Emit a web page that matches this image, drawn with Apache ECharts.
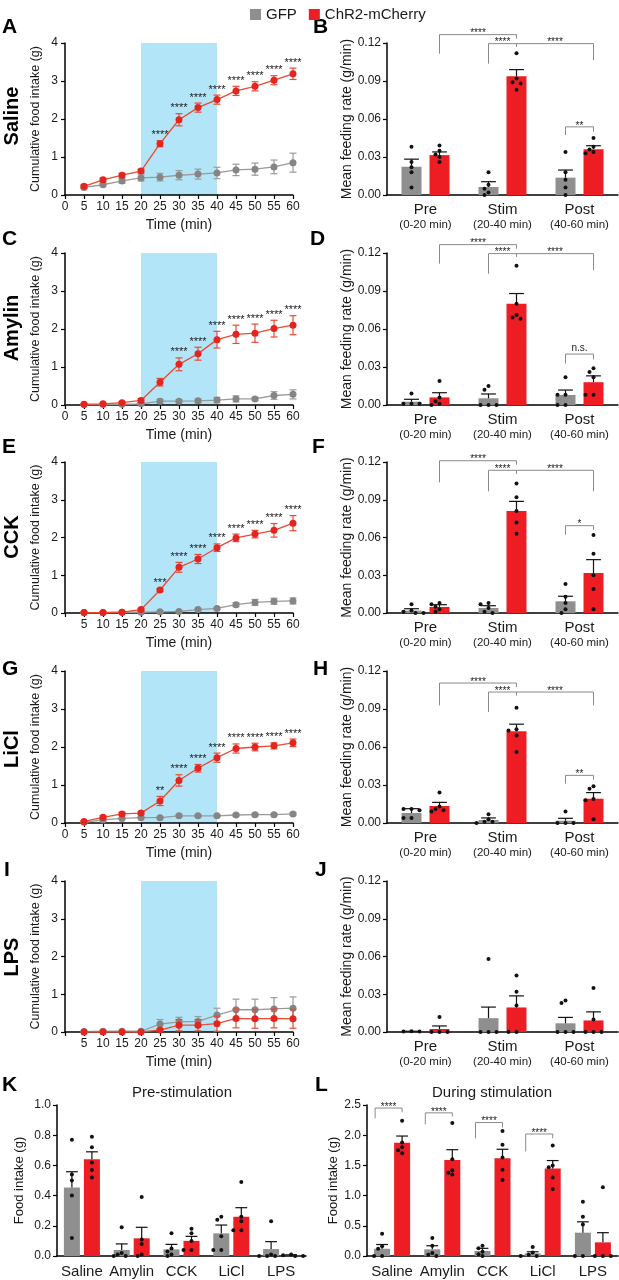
<!DOCTYPE html>
<html><head><meta charset="utf-8">
<script src="https://cdn.jsdelivr.net/npm/echarts@6/dist/echarts.min.js"></script>
<style>html,body{margin:0;padding:0;background:#fff}#c{width:619px;height:1280px}</style>
</head><body><div id="c"></div>
<script>
// ---------------- DATA ----------------
const time = [5,10,15,20,25,30,35,40,45,50,55,60];
const stimWindow = [20, 40];

const salineGFP     = [0.20,0.27,0.37,0.45,0.47,0.52,0.55,0.58,0.66,0.68,0.74,0.85];
const salineGFPErr  = [0.03,0.04,0.06,0.08,0.10,0.12,0.13,0.15,0.15,0.16,0.18,0.25];
const salineChR2    = [0.23,0.40,0.52,0.63,1.35,1.98,2.30,2.51,2.74,2.86,3.02,3.19];
const salineChR2Err = [0.04,0.05,0.05,0.05,0.08,0.16,0.12,0.12,0.12,0.12,0.12,0.15];
const salineSig     = ['','','','','****','****','****','****','****','****','****','****'];

const amylinGFP     = [0.01,0.01,0.02,0.03,0.10,0.10,0.11,0.13,0.16,0.16,0.25,0.28];
const amylinGFPErr  = [0.01,0.01,0.01,0.02,0.05,0.04,0.05,0.07,0.08,0.04,0.10,0.12];
const amylinChR2    = [0.02,0.03,0.06,0.12,0.60,1.07,1.35,1.72,1.86,1.89,2.01,2.10];
const amylinChR2Err = [0.01,0.02,0.03,0.05,0.10,0.17,0.17,0.22,0.24,0.24,0.22,0.25];
const amylinSig     = ['','','','','','****','****','****','****','****','****','****'];

const cckGFP        = [0.01,0.01,0.02,0.02,0.03,0.04,0.09,0.12,0.22,0.28,0.31,0.32];
const cckGFPErr     = [0.01,0.01,0.01,0.01,0.02,0.02,0.03,0.03,0.05,0.08,0.08,0.08];
const cckChR2       = [0.01,0.01,0.02,0.09,0.61,1.21,1.43,1.73,1.99,2.09,2.19,2.38];
const cckChR2Err    = [0.01,0.01,0.02,0.03,0.04,0.13,0.12,0.10,0.10,0.10,0.18,0.20];
const cckSig        = ['','','','','***','****','****','****','****','****','****','****'];

const liclGFP       = [0.02,0.08,0.12,0.14,0.14,0.19,0.19,0.19,0.21,0.22,0.22,0.24];
const liclGFPErr    = [0.01,0.02,0.02,0.02,0.02,0.03,0.03,0.03,0.03,0.03,0.03,0.03];
const liclChR2      = [0.04,0.15,0.24,0.26,0.58,1.12,1.44,1.72,1.96,2.00,2.03,2.11];
const liclChR2Err   = [0.02,0.04,0.04,0.04,0.12,0.15,0.10,0.12,0.12,0.10,0.08,0.10];
const liclSig       = ['','','','','**','****','****','****','****','****','****','****'];

const lpsGFP        = [0.01,0.02,0.02,0.02,0.21,0.27,0.28,0.45,0.59,0.59,0.61,0.63];
const lpsGFPErr     = [0.01,0.01,0.01,0.01,0.12,0.12,0.13,0.18,0.28,0.28,0.30,0.30];
const lpsChR2       = [0.00,0.00,0.00,0.00,0.05,0.18,0.18,0.22,0.36,0.35,0.36,0.35];
const lpsChR2Err    = [0,0,0,0,0.03,0.15,0.15,0.20,0.25,0.25,0.25,0.25];
const lpsSig        = ['','','','','','','','','','','',''];

const rateCats = ['Pre','Stim','Post'];
const rateSubs = ['(0-20 min)','(20-40 min)','(40-60 min)'];
const rateTicks = [0, 0.12, 0.03];

const rateSalineGFP = [0.0223,0.0063,0.0137], rateSalineGFPErr = [0.0060,0.0042,0.0060];
const rateSalineChR2 = [0.0315,0.0937,0.0362], rateSalineChR2Err = [0.0025,0.0053,0.0027];
const dotsSalineGFP = [[0.038,0.026,0.022,0.018,0.006],[0.018,0.008,0.005,0.002,0.0],[0.034,0.018,0.012,0.006,0.0]];
const dotsSalineChR2 = [[0.039,0.035,0.032,0.030,0.026],[0.112,0.092,0.089,0.088,0.083],[0.045,0.038,0.036,0.034,0.033]];
const sigRateSaline = [[0,1,1,1,0.1266,0.1116,0.1234,'****'],[1,-1,1,1,0.1195,0.1037,0.1170,'****'],[1,1,2,1,0.1195,0.1170,0.1064,'****'],[2,-1,2,1,0.0538,0.0473,0.0500,'**']];

const rateAmylinGFP = [0.0026,0.0053,0.0079], rateAmylinGFPErr = [0.0019,0.0034,0.0039];
const rateAmylinChR2 = [0.0060,0.0800,0.0180], rateAmylinChR2Err = [0.0037,0.0080,0.0050];
const dotsAmylinGFP = [[0.009,0.001,0.001,0.001,0.0005],[0.015,0.012,0.0,0.0,0.0],[0.022,0.008,0.008,0.0,0.0]];
const dotsAmylinChR2 = [[0.019,0.006,0.003,0.001,0.0],[0.110,0.080,0.071,0.069,0.068],[0.029,0.026,0.022,0.008,0.008]];
const sigRateAmylin = [[0,1,1,1,0.1266,0.1116,0.1234,'****'],[1,-1,1,1,0.1195,0.1037,0.1170,'****'],[1,1,2,1,0.1195,0.1170,0.1064,'****'],[2,-1,2,1,0.0402,0.0328,0.0360,'n.s.']];

const rateCckGFP = [0.0019,0.0040,0.0093], rateCckGFPErr = [0.0015,0.0018,0.0040];
const rateCckChR2 = [0.0048,0.0810,0.0318], rateCckChR2Err = [0.0018,0.0077,0.0106];
const dotsCckGFP = [[0.007,0.002,0.001,0.0,0.0],[0.008,0.007,0.004,0.001,0.0],[0.023,0.013,0.008,0.003,0.0]];
const dotsCckChR2 = [[0.008,0.007,0.005,0.003,0.001],[0.103,0.092,0.081,0.072,0.063],[0.062,0.047,0.030,0.019,0.003]];
const sigRateCck = [[0,1,1,1,0.1210,0.1038,0.1179,'****'],[1,-1,1,1,0.1134,0.0967,0.1107,'****'],[1,1,2,1,0.1134,0.1107,0.0967,'****'],[2,-1,2,1,0.0694,0.0623,0.0662,'*']];

const rateLiclGFP = [0.0079,0.0024,0.0018], rateLiclGFPErr = [0.0034,0.0016,0.0019];
const rateLiclChR2 = [0.0134,0.0724,0.0192], rateLiclChR2Err = [0.0029,0.0056,0.0048];
const dotsLiclGFP = [[0.011,0.011,0.010,0.004,0.004],[0.007,0.003,0.001,0.001,0.0],[0.009,0.0,0.0,0.0,0.0]];
const dotsLiclChR2 = [[0.024,0.013,0.011,0.010,0.009],[0.091,0.074,0.073,0.069,0.056],[0.029,0.027,0.019,0.018,0.003]];
const sigRateLicl = [[0,1,1,1,0.1105,0.0929,0.1074,'****'],[1,-1,1,1,0.1034,0.0876,0.1008,'****'],[1,1,2,1,0.1034,0.1008,0.0929,'****'],[2,-1,2,1,0.0376,0.0311,0.0342,'**']];

const rateLpsGFP = [0.0003,0.0110,0.0069], rateLpsGFPErr = [0.0003,0.0088,0.0047];
const rateLpsChR2 = [0.0024,0.0195,0.0092], rateLpsChR2Err = [0.0024,0.0092,0.0068];
const dotsLpsGFP = [[0.0005,0.0003,0.0003,0.0002,0.0],[0.058,0.0,0.0,0.0,0.0],[0.025,0.023,0.0,0.0,0.0]];
const dotsLpsChR2 = [[0.012,0.0,0.0,0.0,0.0],[0.045,0.032,0.021,0.0,0.0],[0.035,0.010,0.0,0.0,0.0]];
const sigRateLps = [];

const drugCats = ['Saline','Amylin','CCK','LiCl','LPS'];

const preStimGFP = [0.453,0.040,0.044,0.150,0.046], preStimGFPErr = [0.105,0.040,0.033,0.055,0.049];
const preStimChR2 = [0.640,0.117,0.100,0.260,0.005], preStimChR2Err = [0.050,0.073,0.030,0.060,0.003];
const dotsPreGFP = [[0.77,0.54,0.50,0.40,0.12],[0.19,0.02,0.01,0.0,0.0],[0.15,0.05,0.03,0.01,0.0],[0.26,0.24,0.13,0.04,0.04],[0.23,0.01,0.0,0.0,0.0]];
const dotsPreChR2 = [[0.79,0.72,0.62,0.57,0.52],[0.39,0.11,0.08,0.01,0.0],[0.18,0.15,0.10,0.04,0.04],[0.49,0.26,0.23,0.17,0.17],[0.01,0.005,0.0,0.0,0.0]];
const sigPre = [];

const duringGFP = [0.120,0.110,0.083,0.044,0.386], duringGFPErr = [0.070,0.060,0.044,0.026,0.180];
const duringChR2 = [1.876,1.590,1.617,1.450,0.226], duringChR2Err = [0.110,0.170,0.150,0.130,0.160];
const dotsDuringGFP = [[0.37,0.16,0.12,0.0,0.0],[0.30,0.17,0.05,0.02,0.0],[0.17,0.13,0.07,0.03,0.0],[0.15,0.06,0.02,0.0,0.0],[0.90,0.65,0.52,0.0,0.0]];
const dotsDuringChR2 = [[2.24,1.88,1.80,1.75,1.70],[2.20,1.60,1.42,1.38,1.35],[2.07,1.84,1.63,1.43,1.26],[1.83,1.50,1.47,1.30,1.11],[1.14,0.0,0.0,0.0,0.0]];
const sigDuring = [[0,-1.7,0,1,2.45,2.28,2.38,'****'],[1,-1.7,1,1,2.37,2.18,2.31,'****'],[2,-1.7,2,1,2.21,1.95,2.13,'****'],[3,-1.7,3,1,2.02,1.73,1.95,'****']];

// ---------------- STYLE ----------------
const FONT = '"Liberation Sans", Arial, Helvetica, sans-serif';
const TXT = '#1a1a1a';
const GRAY = '#8f8f8f', RED = '#ee1d23';
const GRAY_LINE = '#9a9a9a', GRAY_DOT = '#858585';
const RED_LINE = '#ea4a33', RED_DOT = '#e3241f';
const BLUE = '#b3e5f8';
const BRACKET = '#8a8a8a';

const chart = echarts.init(document.getElementById('c'), null, {renderer:'canvas'});
const option = {animation:false, backgroundColor:'#ffffff', textStyle:{fontFamily:FONT},
  grid:[], xAxis:[], yAxis:[], series:[], graphic:[],
  legend:{data:['GFP','ChR2-mCherry'], left:245, top:2, icon:'rect', itemWidth:11, itemHeight:11, itemGap:12, selectedMode:false,
    textStyle:{fontSize:15, color:TXT, fontFamily:FONT}}
};

function axisCommon() {
  return {axisLine:{show:true, onZero:false, lineStyle:{color:'#000', width:1.5}}, splitLine:{show:false}, z:1};
}
const tickOn = {show:true, inside:false, length:4, lineStyle:{color:'#000', width:1.2}};

function errRender(color, cap) {
  return function(params, api) {
    const x = api.value(0), m = api.value(1), e = api.value(2);
    if (!(e > 0)) return null;
    const t = api.coord([x, m + e]), b = api.coord([x, m - e]);
    const st = {stroke:color, lineWidth:1.2};
    return {type:'group', children:[
      {type:'line', shape:{x1:t[0], y1:t[1], x2:b[0], y2:b[1]}, style:st},
      {type:'line', shape:{x1:t[0]-cap, y1:t[1], x2:t[0]+cap, y2:t[1]}, style:st},
      {type:'line', shape:{x1:b[0]-cap, y1:b[1], x2:b[0]+cap, y2:b[1]}, style:st}
    ]};
  };
}

function linePanel(d, L) {
  const gi = option.grid.length;
  option.grid.push({left:L.left, top:L.top, width:L.width, height:L.height});
  option.xAxis.push(Object.assign(axisCommon(), {type:'value', gridIndex:gi, min:0, max:60, interval:5,
    name:'Time (min)', nameLocation:'middle', nameGap:23, nameTextStyle:{fontSize:14, color:TXT, fontFamily:FONT},
    axisTick:tickOn,
    axisLabel:{margin:6, fontSize:12, color:TXT, fontFamily:FONT, formatter:v => (v === 0 && !L.zero) ? '' : String(v)}}));
  option.yAxis.push(Object.assign(axisCommon(), {type:'value', gridIndex:gi, min:0, max:4, interval:1,
    name:'Cumulative food intake (g)', nameLocation:'middle', nameGap:23, nameTextStyle:{fontSize:12.5, color:TXT, fontFamily:FONT},
    axisTick:tickOn,
    axisLabel:{margin:7, fontSize:12, color:TXT, fontFamily:FONT}}));
  const ax = {xAxisIndex:gi, yAxisIndex:gi, silent:true};
  option.series.push(Object.assign({type:'custom', z:0, clip:false, data:[[stimWindow[0], stimWindow[1]]],
    renderItem:(p, api) => {
      const a = api.coord([api.value(0), 4]), b = api.coord([api.value(1), 0]);
      return {type:'rect', shape:{x:a[0], y:a[1], width:b[0]-a[0], height:b[1]-a[1]}, style:{fill:BLUE}};
    }}, ax));
  option.series.push(Object.assign({type:'custom', z:2, clip:false, data:time.map((t,j)=>[t, d.gfp[j], d.gfpErr[j]]), renderItem:errRender(GRAY_LINE, 3.5)}, ax));
  option.series.push(Object.assign({type:'line', name:'GFP', z:3, data:time.map((t,j)=>[t, d.gfp[j]]), symbol:'circle', symbolSize:7,
    itemStyle:{color:GRAY_DOT}, lineStyle:{color:GRAY_LINE, width:1.3}}, ax));
  option.series.push(Object.assign({type:'custom', z:4, clip:false, data:time.map((t,j)=>[t, d.chr[j], d.chrErr[j]]), renderItem:errRender(RED_LINE, 3.5)}, ax));
  option.series.push(Object.assign({type:'line', name:'ChR2-mCherry', z:5, data:time.map((t,j)=>[t, d.chr[j]]), symbol:'circle', symbolSize:7,
    itemStyle:{color:RED_DOT}, lineStyle:{color:RED_LINE, width:1.3}}, ax));
  option.series.push(Object.assign({type:'custom', z:6, clip:false,
    data:time.map((t,j)=>[t, d.chr[j] + d.chrErr[j], j]).filter(v => d.sig[v[2]]),
    renderItem:(p, api) => {
      const pt = api.coord([api.value(0), api.value(1)]);
      return {type:'text', x:pt[0], y:pt[1]-5.5, style:{text:d.sig[api.value(2)], fill:TXT, font:'11px ' + FONT, align:'center', verticalAlign:'middle'}};
    }}, ax));
}

function barPanel(d, L, C) {
  const gi = option.grid.length;
  option.grid.push({left:L.left, top:L.top, width:L.width, height:L.height});
  const off = (L.barWidth + L.barWidth * L.gapPct / 100) / 2;
  option.xAxis.push(Object.assign(axisCommon(), {type:'category', gridIndex:gi, data:C.cats,
    axisTick:{show:false},
    axisLabel:Object.assign({interval:0, margin:C.labelMargin, color:TXT, fontFamily:FONT},
      C.subs ? {formatter:(v, i) => '{a|' + v + '}\n{b|' + C.subs[i] + '}',
                rich:{a:{fontSize:15, lineHeight:17, color:TXT, fontFamily:FONT}, b:{fontSize:11.5, lineHeight:14, color:TXT, fontFamily:FONT}}}
             : {fontSize:15})}));
  option.yAxis.push(Object.assign(axisCommon(), {type:'value', gridIndex:gi, min:C.ticks[0], max:C.ticks[1], interval:C.ticks[2],
    name:C.yName, nameLocation:'middle', nameGap:C.nameGap, nameTextStyle:{fontSize:C.nameSize, color:TXT, fontFamily:FONT},
    axisTick:tickOn,
    axisLabel:{margin:6, fontSize:12, color:TXT, fontFamily:FONT, formatter:v => v.toFixed(C.decimals)}}));
  const ax = {xAxisIndex:gi, yAxisIndex:gi, silent:true};
  option.series.push(Object.assign({type:'bar', name:'GFP', z:2, data:d.gfp, barWidth:L.barWidth, barGap:L.gapPct + '%', itemStyle:{color:GRAY}}, ax));
  option.series.push(Object.assign({type:'bar', name:'ChR2-mCherry', z:2, data:d.chr, barWidth:L.barWidth, barGap:L.gapPct + '%', itemStyle:{color:RED}}, ax));
  const items = [];
  [0,1].forEach(g => C.cats.forEach((c, i) => items.push([i, g ? d.chr[i] : d.gfp[i], g ? d.chrErr[i] : d.gfpErr[i], g])));
  const cap = L.barWidth * 0.37;
  option.series.push(Object.assign({type:'custom', z:3, clip:false, data:items,
    renderItem:(p, api) => {
      const c = api.value(0), m = api.value(1), e = api.value(2), g = api.value(3);
      const base = api.coord([c, m]);
      const x = base[0] + (g ? 1 : -1) * off;
      const tp = api.coord([c, m + e]);
      const kids = [];
      const st = {stroke:'#111', lineWidth:1.2};
      if (e > 0) {
        kids.push({type:'line', shape:{x1:x, y1:base[1], x2:x, y2:tp[1]}, style:st});
        kids.push({type:'line', shape:{x1:x-cap, y1:tp[1], x2:x+cap, y2:tp[1]}, style:st});
      }
      const dots = (g ? d.chrDots : d.gfpDots)[c];
      const placed = [];
      dots.forEach(v => {
        const y = api.coord([c, v])[1];
        for (const o of [0,-4,4,-8,8,-12,12]) {
          if (placed.every(q => Math.hypot(q[0]-o, q[1]-y) >= 4.2)) { placed.push([o, y]); break; }
        }
      });
      placed.forEach(q => kids.push({type:'circle', shape:{cx:x+q[0], cy:q[1], r:2}, style:{fill:'#111'}}));
      return {type:'group', children:kids};
    }}, ax));
  if (d.sig.length) {
    option.series.push(Object.assign({type:'custom', z:4, clip:false, data:d.sig.map(b => [b[0], b[4]]),
      renderItem:(p, api) => {
        const b = d.sig[p.dataIndex];
        const xa = api.coord([b[0], b[4]])[0] + b[1] * off;
        const xb = api.coord([b[2], b[4]])[0] + b[3] * off;
        const yt = api.coord([b[0], b[4]])[1], ya = api.coord([b[0], b[5]])[1], yb = api.coord([b[2], b[6]])[1];
        const star = b[7].indexOf('*') >= 0;
        return {type:'group', children:[
          {type:'polyline', shape:{points:[[xa,ya],[xa,yt],[xb,yt],[xb,yb]]}, style:{stroke:BRACKET, lineWidth:1, fill:'none'}},
          {type:'text', x:(xa+xb)/2, y:yt-1, style:{text:b[7], fill:TXT, font:'10px ' + FONT, align:'center', verticalAlign:star ? 'middle' : 'bottom'}}
        ]};
      }}, ax));
  }
}

// ---------------- PANELS ----------------
const rateCfg = {cats:rateCats, subs:rateSubs, ticks:rateTicks, decimals:2, yName:'Mean feeding rate (g/min)', nameGap:31, nameSize:14, labelMargin:6};
const rowTops = [[43,152],[253,152],[462,151],[671,152],[881,151]];
const lineSets = [
  {gfp:salineGFP, gfpErr:salineGFPErr, chr:salineChR2, chrErr:salineChR2Err, sig:salineSig},
  {gfp:amylinGFP, gfpErr:amylinGFPErr, chr:amylinChR2, chrErr:amylinChR2Err, sig:amylinSig},
  {gfp:cckGFP, gfpErr:cckGFPErr, chr:cckChR2, chrErr:cckChR2Err, sig:cckSig},
  {gfp:liclGFP, gfpErr:liclGFPErr, chr:liclChR2, chrErr:liclChR2Err, sig:liclSig},
  {gfp:lpsGFP, gfpErr:lpsGFPErr, chr:lpsChR2, chrErr:lpsChR2Err, sig:lpsSig}
];
const rateSets = [
  {gfp:rateSalineGFP, gfpErr:rateSalineGFPErr, chr:rateSalineChR2, chrErr:rateSalineChR2Err, gfpDots:dotsSalineGFP, chrDots:dotsSalineChR2, sig:sigRateSaline},
  {gfp:rateAmylinGFP, gfpErr:rateAmylinGFPErr, chr:rateAmylinChR2, chrErr:rateAmylinChR2Err, gfpDots:dotsAmylinGFP, chrDots:dotsAmylinChR2, sig:sigRateAmylin},
  {gfp:rateCckGFP, gfpErr:rateCckGFPErr, chr:rateCckChR2, chrErr:rateCckChR2Err, gfpDots:dotsCckGFP, chrDots:dotsCckChR2, sig:sigRateCck},
  {gfp:rateLiclGFP, gfpErr:rateLiclGFPErr, chr:rateLiclChR2, chrErr:rateLiclChR2Err, gfpDots:dotsLiclGFP, chrDots:dotsLiclChR2, sig:sigRateLicl},
  {gfp:rateLpsGFP, gfpErr:rateLpsGFPErr, chr:rateLpsChR2, chrErr:rateLpsChR2Err, gfpDots:dotsLpsGFP, chrDots:dotsLpsChR2, sig:sigRateLps}
];
const zeroLabels = [true, true, false, true, false];

rateSets.forEach((d, i) => barPanel(d, {left:387, top:rowTops[i][0], width:231, height:rowTops[i][1], barWidth:20, gapPct:40}, rateCfg));
barPanel({gfp:preStimGFP, gfpErr:preStimGFPErr, chr:preStimChR2, chrErr:preStimChR2Err, gfpDots:dotsPreGFP, chrDots:dotsPreChR2, sig:sigPre},
  {left:57, top:1105, width:249, height:151, barWidth:16, gapPct:25},
  {cats:drugCats, ticks:[0,1,0.2], decimals:1, yName:'Food intake (g)', nameGap:31, nameSize:13, labelMargin:8});
barPanel({gfp:duringGFP, gfpErr:duringGFPErr, chr:duringChR2, chrErr:duringChR2Err, gfpDots:dotsDuringGFP, chrDots:dotsDuringChR2, sig:sigDuring},
  {left:367, top:1105, width:251, height:151, barWidth:16, gapPct:25},
  {cats:drugCats, ticks:[0,2.5,0.5], decimals:1, yName:'Food intake (g)', nameGap:27, nameSize:13, labelMargin:8});
lineSets.forEach((d, i) => linePanel(d, {left:65, top:rowTops[i][0], width:228, height:rowTops[i][1], zero:zeroLabels[i]}));

// ---------------- TEXT ----------------
function txt(s, x, y, font) {
  option.graphic.push({type:'text', x:x, y:y, silent:true,
    style:{text:s, font:font, fill:'#000', align:'left', verticalAlign:'middle'}});
}
const letterFont = 'bold 21px ' + FONT;
[['A',2,27.5],['B',313,27.5],['C',2,239.5],['D',310,239.5],['E',2,447.5],['F',312,447.5],
 ['G',2,669.5],['H',313,669.5],['I',4,870],['J',315,870],['K',2,1085.5],['L',315,1085.5]].forEach(l => txt(l[0], l[1], l[2], letterFont));
[['Saline',116],['Amylin',328],['CCK',537],['LiCl',749],['LPS',957]].forEach(r => {
  option.graphic.push({type:'text', x:12, y:r[1], rotation:Math.PI/2, silent:true,
    style:{text:r[0], font:'bold 20px ' + FONT, fill:'#000', align:'center', verticalAlign:'middle'}});
});
option.graphic.push({type:'text', x:182, y:1093, silent:true, style:{text:'Pre-stimulation', font:'15px ' + FONT, fill:TXT, align:'center', verticalAlign:'middle'}});
option.graphic.push({type:'text', x:492, y:1093, silent:true, style:{text:'During stimulation', font:'15px ' + FONT, fill:TXT, align:'center', verticalAlign:'middle'}});

chart.setOption(option);
</script></body></html>
